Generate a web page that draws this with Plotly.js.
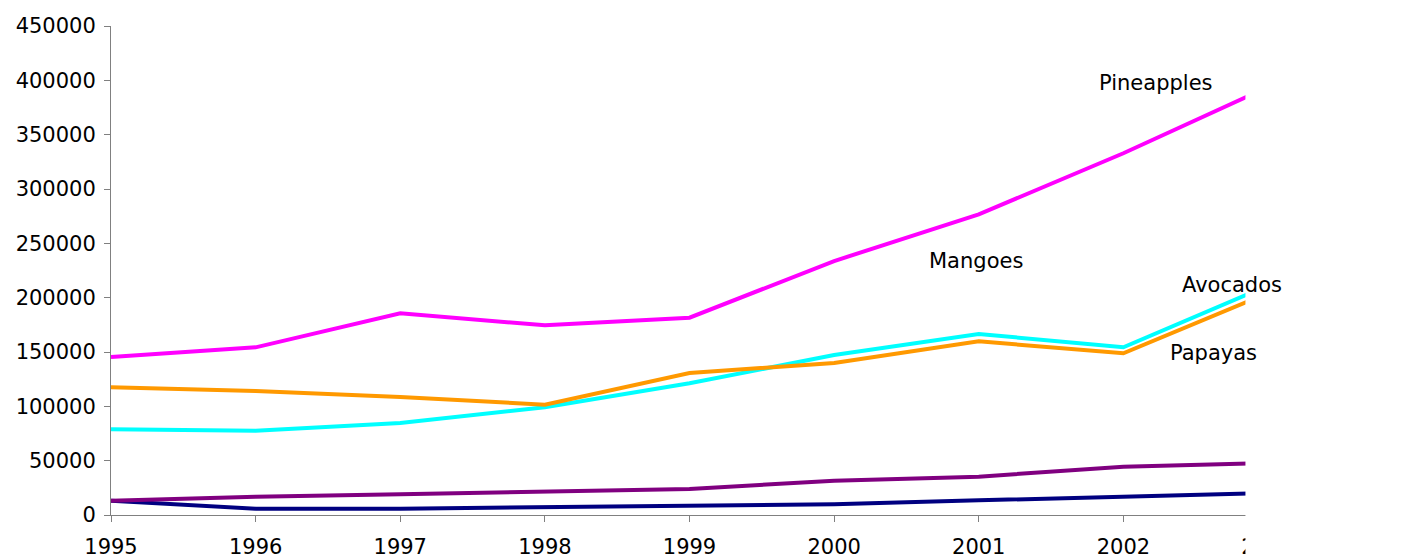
<!DOCTYPE html>
<html>
<head>
<meta charset="utf-8">
<script src="https://cdn.plot.ly/plotly-3.0.1.min.js"></script>
<style>
html,body{margin:0;padding:0;background:#fff;}
#chart{width:1405px;height:556px;}
</style>
</head>
<body>
<div id="chart"></div>
<script>
const years = [1995, 1996, 1997, 1998, 1999, 2000, 2001, 2002, 2003];
const pineapples = [145400, 154300, 185600, 174600, 181600, 233700, 276700, 332900, 393900];
const avocados = [78800, 77600, 84700, 99100, 121200, 147200, 166600, 154300, 211200];
const papayas = [117500, 114000, 108600, 101500, 130700, 139900, 159800, 148800, 204200];
const sweetPotatoes = [13200, 16900, 19000, 21400, 23900, 31600, 35300, 44500, 47800];
const mangoes = [13200, 5800, 5800, 7100, 7700, 9800, 13500, 16900, 20200];
const yTicks = [0, 50000, 100000, 150000, 200000, 250000, 300000, 350000, 400000, 450000];

const FONT = '"DejaVu Sans", Verdana, sans-serif';
const FS = 21;
function line(name, y, color) {
  return {x: years, y: y, name: name, type: 'scatter', mode: 'lines',
    line: {color: color, width: 4}, hoverinfo: 'x+y+name'};
}
const traces = [
  line('Mangoes', mangoes, '#000080'),
  line('Sweet potatoes', sweetPotatoes, '#800080'),
  line('Avocados', avocados, '#00FFFF'),
  line('Papayas', papayas, '#FF9900'),
  line('Pineapples', pineapples, '#FF00FF')
];

function label(text, x, y) {
  return {text: text, x: x, y: y, xref: 'x', yref: 'y', showarrow: false,
    font: {family: FONT, size: FS, color: '#000'}};
}

const layout = {
  width: 1405, height: 556,
  margin: {l: 111, r: 137, t: 26, b: 41, pad: 0},
  paper_bgcolor: '#fff', plot_bgcolor: '#fff',
  showlegend: false,
  font: {family: FONT, size: FS, color: '#000'},
  xaxis: {
    range: [1995, 2003], tickmode: 'array', tickvals: years, ticktext: years.map(String),
    showgrid: false, zeroline: false, showline: true, linecolor: '#808080', linewidth: 1,
    ticks: 'outside', ticklen: 6, tickcolor: '#808080', tickwidth: 1,
    ticklabelstandoff: 7,
    tickfont: {family: FONT, size: FS, color: '#000'}
  },
  yaxis: {
    range: [0, 450000], tickmode: 'array', tickvals: yTicks, ticktext: yTicks.map(String),
    showgrid: false, zeroline: false, showline: true, linecolor: '#808080', linewidth: 1,
    ticks: 'outside', ticklen: 6, tickcolor: '#808080', tickwidth: 1,
    ticklabelstandoff: 4,
    tickfont: {family: FONT, size: FS, color: '#000'}
  },
  shapes: [{
    type: 'rect', xref: 'paper', yref: 'paper', layer: 'above',
    x0: 0.9805, x1: 1.2, y0: -0.2, y1: 1.1,
    fillcolor: '#fff', line: {width: 0}
  }],
  annotations: [
    label('Pineapples', 2002.227, 397540),
    label('Mangoes', 2000.982, 233740),
    label('Avocados', 2002.752, 211660),
    label('Papayas', 2002.621, 149080),
    label('Sweet potatoes', 2003.326, 56130)
  ]
};

Plotly.newPlot('chart', traces, layout, {displayModeBar: false, staticPlot: true});
</script>
</body>
</html>
